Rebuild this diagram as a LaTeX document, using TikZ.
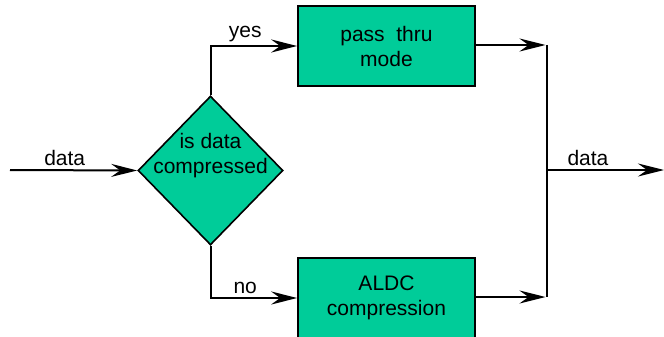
\documentclass[tikz,border=0pt]{standalone}
\usepackage{fontspec}
\setmainfont{Liberation Sans}
\usetikzlibrary{shapes.geometric,arrows.meta}
\definecolor{verde}{RGB}{0,204,153}
\tikzset{
  caja/.style={draw, fill=verde, line width=1.6pt, minimum width=177pt, minimum height=80pt, align=center, inner sep=0pt},
  rombo/.style={draw, fill=verde, diamond, line width=1.6pt, minimum width=145pt, minimum height=149pt, inner sep=0pt},
  flecha/.style={-{Stealth[length=26pt,width=13pt,inset=9pt]}},
}
\begin{document}
\begin{tikzpicture}[x=1pt,y=-1pt,line width=2pt,font=\fontsize{21}{25}\selectfont]
    \useasboundingbox (0,0) rectangle (664,337);

    % Dibuja los nodos
    \node[rombo] (dec) at (210.5,170.5) {};
    \node[align=center] (pregunta) at (210.5,156) {is data\\compressed};
    \node[caja] (paso) at (386.5,46) {pass\ \ thru\\mode};
    \node[caja] (aldc) at (386.5,298) {ALDC\\compression};

    % Puntos auxiliares
    \coordinate (ent) at (10,170);
    \coordinate (sal) at (664,170);
    \coordinate (uniA) at (547,45);
    \coordinate (uniB) at (547,297);
    \coordinate (uniC) at (547,170);

    % Dibuja los conectores
    \draw[flecha] (ent) -- (dec.west) node[pos=0.43, above] {data};
    \draw[flecha] (dec.north) |- (paso.west) node[pos=0.7, above] {yes};
    \draw[flecha] (dec.south) |- (aldc.west) node[pos=0.7, above] {no};
    \draw[flecha] (paso.east |- uniA) -- ([xshift=-1.5pt]uniA);
    \draw[flecha] (aldc.east |- uniB) -- ([xshift=-1.5pt]uniB);
    \draw (uniA) -- (uniB);
    \draw[flecha] (uniC) -- (sal) node[pos=0.35, above] {data};
\end{tikzpicture}
\end{document}
